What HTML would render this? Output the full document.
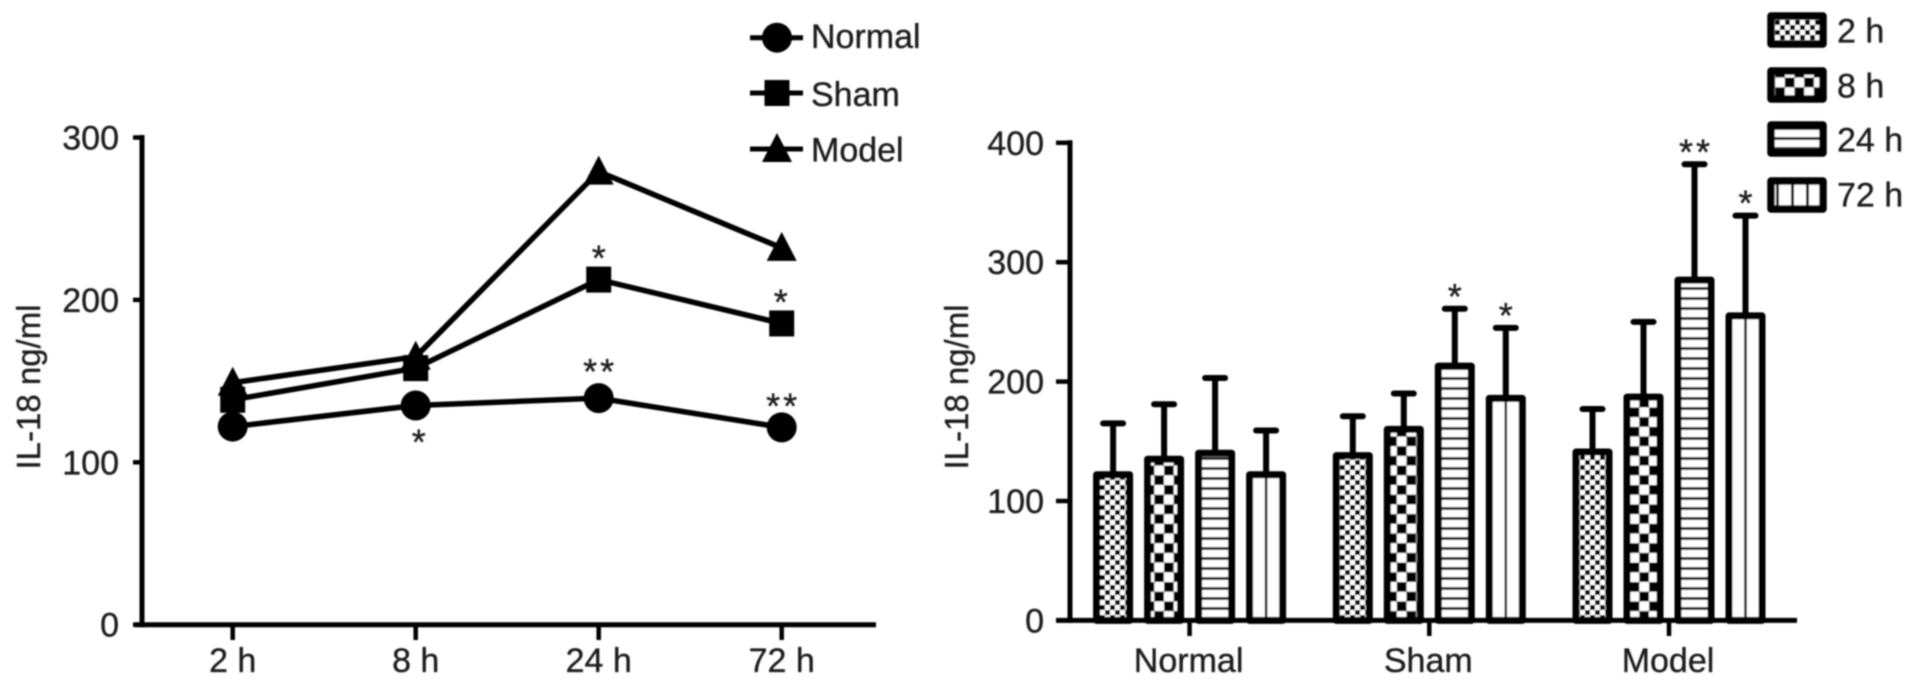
<!DOCTYPE html>
<html lang="en">
<head>
<meta charset="utf-8">
<title>IL-18 ng/ml charts</title>
<style>
html,body{margin:0;padding:0;background:#fff;width:1913px;height:685px;overflow:hidden}
svg{display:block}
text{font-family:"Liberation Sans",sans-serif;fill:#1c1c1c;stroke:#1c1c1c;stroke-width:0.35}
</style>
</head>
<body>
<svg id="figure" xmlns="http://www.w3.org/2000/svg" width="1913" height="685" viewBox="0 0 1913 685">
  <defs>
    <filter id="soft" x="-2%" y="-2%" width="104%" height="104%"><feGaussianBlur stdDeviation="0.8"/></filter>
    <pattern id="p2h" patternUnits="userSpaceOnUse" width="10" height="10">
      <rect width="10" height="10" fill="#000"/>
      <rect x="0" y="0" width="5" height="5" fill="#fff"/>
      <rect x="5" y="5" width="5" height="5" fill="#fff"/>
    </pattern>
    <pattern id="p8h" patternUnits="userSpaceOnUse" width="19.4" height="19.4">
      <rect width="19.4" height="19.4" fill="#fff"/>
      <rect x="0" y="0" width="9.7" height="9.7" fill="#000"/>
      <rect x="9.7" y="9.7" width="9.7" height="9.7" fill="#000"/>
    </pattern>
    <pattern id="p24h" patternUnits="userSpaceOnUse" width="10" height="10">
      <rect width="10" height="10" fill="#fff"/>
      <rect x="0" y="7" width="10" height="3" fill="#222"/>
    </pattern>
    <pattern id="p72h" patternUnits="userSpaceOnUse" width="15" height="10">
      <rect width="15" height="10" fill="#fff"/>
      <rect x="6" y="0" width="3" height="10" fill="#111"/>
    </pattern>
  </defs>
  <g id="root" filter="url(#soft)"></g>
</svg>
<script>
// ---- line chart data ----
const lineCategories = ['2 h', '8 h', '24 h', '72 h'];
const lineSeriesNames = ['Normal', 'Sham', 'Model'];
const normalValues = [122, 135, 139.5, 121.5];
const shamValues = [138.5, 158, 212.5, 185.5];
const modelValues = [149, 165, 279, 232];
const lineTicks = [0, 100, 200, 300];

// ---- bar chart data ----
const barGroups = ['Normal', 'Sham', 'Model'];
const barTimes = ['2 h', '8 h', '24 h', '72 h'];
const normalBarMeans = [122, 135, 140, 122];
const shamBarMeans = [138, 160, 213, 186];
const modelBarMeans = [141, 187, 285, 255];
const normalBarTops = [165, 181, 203, 159];
const shamBarTops = [171, 190, 261, 245];
const modelBarTops = [177, 250, 382, 339];
const normalBarStars = ['', '', '', ''];
const shamBarStars = ['', '', '*', '*'];
const modelBarStars = ['', '', '**', '*'];
const barTicks = [0, 100, 200, 300, 400];
const patternIds = ['p2h', 'p8h', 'p24h', 'p72h'];

const NS = 'http://www.w3.org/2000/svg';
const root = document.getElementById('root');

function mk(tag, attrs, parent) {
  const e = document.createElementNS(NS, tag);
  for (const k in attrs) e.setAttribute(k, attrs[k]);
  (parent || root).appendChild(e);
  return e;
}
function lineEl(x1, y1, x2, y2, w, parent) {
  return mk('line', {x1: x1, y1: y1, x2: x2, y2: y2, stroke: '#000', 'stroke-width': w}, parent);
}
function textEl(str, x, y, size, anchor, parent) {
  const t = mk('text', {x: x, y: y, 'font-size': size, 'text-anchor': anchor}, parent);
  t.textContent = str;
  return t;
}
function starEl(str, cx, cy, parent) {
  const t = mk('text', {x: cx + (str.length > 1 ? 1.5 : 0), y: cy + 21, 'font-size': 36, 'text-anchor': 'middle', 'letter-spacing': str.length > 1 ? 3 : 0}, parent);
  t.textContent = str;
  
  
  return t;
}

// ---- left chart axes ----
const lx0 = 142, ly0 = 624.7, lyPer = 1.624, lxFirst = 232.7, lxStep = 183;
const lineX = i => lxFirst + i * lxStep;
const lineY = v => ly0 - v * lyPer;

const leftChart = mk('g', {});



const leftYAxis = lineEl(lx0, lineY(300) - 2.5, lx0, ly0 + 2.5, 5, leftChart);


const leftXAxis = lineEl(135, ly0, 876, ly0, 5, leftChart);



lineTicks.forEach(v => {
  const tick = lineEl(133, lineY(v), lx0, lineY(v), 4.5, leftChart);
  
  
  const lab = textEl(String(v), 119, lineY(v) + 12, 34, 'end', leftChart);
  
  
});
lineCategories.forEach((c, i) => {
  const tick = lineEl(lineX(i), ly0, lineX(i), 640, 4.5, leftChart);
  
  
  const lab = textEl(c, lineX(i), 672, 34, 'middle', leftChart);
  
  
});
const leftTitle = textEl('IL-18 ng/ml', 0, 0, 33, 'middle', leftChart);
leftTitle.setAttribute('transform', 'translate(40 387) rotate(-90)');



function circle(cx, cy, parent) {
  return mk('circle', {cx: cx, cy: cy, r: 15, fill: '#000'}, parent);
}
function square(cx, cy, parent) {
  return mk('rect', {x: cx - 12.5, y: cy - 13, width: 25, height: 26, fill: '#000'}, parent);
}
function triangle(cx, cy, parent) {
  return mk('polygon', {points: (cx - 15) + ',' + (cy + 13) + ' ' + (cx + 15) + ',' + (cy + 13) + ' ' + cx + ',' + (cy - 16), fill: '#000'}, parent);
}
const markerFns = [circle, square, triangle];
const lineSeries = [normalValues, shamValues, modelValues];

lineSeries.forEach((vals, s) => {
  const g = mk('g', {}, leftChart);
  
  
  const pts = vals.map((v, i) => lineX(i) + ',' + lineY(v)).join(' ');
  const pl = mk('polyline', {points: pts, fill: 'none', stroke: '#000', 'stroke-width': 5.5}, g);
  
  
  vals.forEach((v, i) => {
    const m = markerFns[s](lineX(i), lineY(v), g);
    
    
  });
});

starEl('*', lineX(1) + 3, lineY(normalValues[1]) + 28, leftChart);
starEl('**', lineX(2), lineY(normalValues[2]) - 35, leftChart);
starEl('**', lineX(3), lineY(normalValues[3]) - 30, leftChart);
starEl('*', lineX(2), lineY(shamValues[2]) - 30, leftChart);
starEl('*', lineX(3) - 1, lineY(shamValues[3]) - 30, leftChart);

// ---- left legend ----
const legendY = [37.7, 93, 149];
const legendBase = [48, 106, 161.7];
lineSeriesNames.forEach((n, s) => {
  const g = mk('g', {}, leftChart);
  
  
  lineEl(750, legendY[s], 803, legendY[s], 5, g);
  markerFns[s](777, legendY[s], g);
  textEl(n, 811, legendBase[s], 34, 'start', g);
});

// ---- right chart axes ----
const bx0 = 1070, by0 = 620.4, byPer = 1.194, bgFirst = 1189.6, bgStep = 239.7, barStep = 51, barW = 33;
const groupX = g => bgFirst + g * bgStep;
const barX = (g, i) => groupX(g) + (i - 1.5) * barStep;
const barY = v => by0 - v * byPer;

const rightChart = mk('g', {});



const barMeans = [normalBarMeans, shamBarMeans, modelBarMeans];
const barTops = [normalBarTops, shamBarTops, modelBarTops];
const barStars = [normalBarStars, shamBarStars, modelBarStars];

barGroups.forEach((name, g) => {
  barTimes.forEach((t, i) => {
    const bg = mk('g', {}, rightChart);
    
    
    const cx = barX(g, i), top = barY(barMeans[g][i]), errTop = barY(barTops[g][i]);
    const err = lineEl(cx, errTop, cx, top, 6, bg);
    
    
    const cap = mk('line', {x1: cx - 10, y1: errTop, x2: cx + 10, y2: errTop, stroke: '#000', 'stroke-width': 6, 'stroke-linecap': 'round'}, bg);
    
    
    const fill = i === 3 ? '#fff' : 'url(#' + patternIds[i] + ')';
    const r = mk('rect', {x: cx - barW / 2, y: top, width: barW, height: by0 - top, fill: fill, stroke: '#000', 'stroke-width': 7, 'stroke-linejoin': 'round'}, bg);
    
    
    if (i === 3) {
      const c = lineEl(cx, top, cx, by0, 2.5, bg);
      
      
    }
    if (barStars[g][i]) starEl(barStars[g][i], cx, errTop - 21, bg);
  });
});

const rightYAxis = lineEl(bx0, barY(400) - 2.5, bx0, by0 + 2.5, 5, rightChart);


const rightXAxis = lineEl(1056, by0, 1797, by0, 5, rightChart);



barTicks.forEach(v => {
  const tick = lineEl(1056, barY(v), bx0, barY(v), 4.5, rightChart);
  
  
  const lab = textEl(String(v), 1044, barY(v) + 12, 34, 'end', rightChart);
  
  
});
barGroups.forEach((name, g) => {
  const tick = lineEl(groupX(g), by0, groupX(g), 636, 4.5, rightChart);
  
  
  const lab = textEl(name, groupX(g) - 1, 672, 34, 'middle', rightChart);
  
  
});
const rightTitle = textEl('IL-18 ng/ml', 0, 0, 33, 'middle', rightChart);
rightTitle.setAttribute('transform', 'translate(968 387) rotate(-90)');



// ---- right legend ----
const swatchTops = [16, 71, 125, 181];
const swatchBase = [42.5, 97.5, 151.5, 206.5];
const legendPatterns = ['p2h', 'p8h', 'p24h', 'p72h'];
barTimes.forEach((t, i) => {
  const g = mk('g', {}, rightChart);
  
  
  const sw = mk('rect', {x: 1771, y: swatchTops[i], width: 52, height: 28, fill: 'url(#' + legendPatterns[i] + ')', stroke: '#000', 'stroke-width': 7.5, 'stroke-linejoin': 'round'}, g);
  
  
  textEl(t, 1837, swatchBase[i], 34, 'start', g);
});
</script>
</body>
</html>
